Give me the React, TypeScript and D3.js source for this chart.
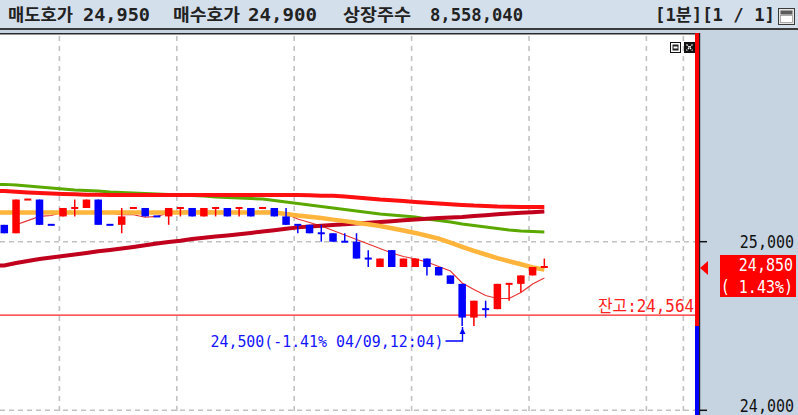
import React from 'react';
import * as d3 from 'd3';

// ---- data ----
const opens = [25100,25050,25250,25250,25100,25150,25200,25200,25250,25100,25100,25200,25200,25150,25150,25200,25200,25150,25200,25200,25200,25200,25200,25200,25150,25100,25100,25050,25050,25000,25000,24900,24850,24950,24850,24850,24900,24850,24800,24750,24550,24600,24600,24750,24750,24800,24850];
const highs = [25100,25250,25250,25250,25100,25200,25250,25250,25250,25100,25200,25200,25200,25150,25200,25200,25200,25200,25200,25200,25200,25200,25200,25200,25200,25100,25100,25100,25050,25050,25050,24950,24900,24950,24900,24900,24900,24850,24800,24750,24650,24650,24750,24750,24800,24850,24900];
const lows = [25050,25050,25250,25100,25100,25150,25150,25200,25100,25100,25050,25200,25150,25150,25100,25150,25150,25150,25150,25150,25150,25150,25200,25150,25100,25050,25050,25000,25000,25000,24900,24850,24850,24850,24850,24850,24800,24800,24750,24500,24500,24550,24600,24650,24700,24800,24850];
const closes = [25050,25250,25250,25100,25100,25200,25200,25250,25100,25100,25150,25200,25150,25150,25200,25200,25150,25200,25200,25150,25200,25150,25200,25150,25100,25100,25050,25050,25000,25000,24900,24900,24900,24850,24900,24900,24850,24800,24750,24550,24650,24600,24750,24750,24800,24850,24850];
const rising = [0,1,1,0,0,1,1,1,0,0,1,1,0,0,1,1,0,1,1,0,1,0,1,0,0,0,0,0,0,0,0,0,1,0,1,1,0,0,0,0,1,0,1,1,1,1,1];

const ma5: (number | null)[] = [null,25100,25125,25150,25155,25175,25170,25170,25170,25170,25160,25160,25145,25150,25170,25180,25180,25180,25180,25170,25180,25170,25180,25180,25164,25135,25114,25093,25066,25040,25013,24986,24960,24933,24912,24897,24880,24853,24826,24755,24717,24681,24663,24663,24699,24749,24785];
const maOrange = [25173,25173,25173,25173,25173,25173,25173,25173,25173,25173,25173,25173,25173,25173,25173,25173,25173,25173,25173,25173,25173,25173,25173,25173,25164,25155,25148,25140,25131,25122,25112,25103,25093,25080,25066,25052,25035,25018,24995,24970,24945,24924,24903,24884,24866,24847,24835];
const maRed = [25300,25296,25292,25289,25286,25283,25281,25279,25278,25277,25277,25277,25277,25277,25277,25277,25277,25277,25277,25277,25277,25277,25277,25277,25277,25277,25275,25273,25272,25268,25262,25256,25250,25246,25241,25236,25231,25227,25222,25218,25214,25212,25209,25208,25206,25206,25206];
const maDark = [24859,24874,24886,24897,24906,24915,24924,24933,24943,24951,24960,24969,24979,24989,24998,25006,25016,25024,25031,25037,25044,25052,25060,25068,25077,25085,25090,25095,25099,25104,25108,25112,25117,25122,25127,25132,25136,25140,25144,25147,25152,25157,25163,25167,25171,25175,25179];
const maGreen = [25340,25336,25330,25324,25318,25313,25307,25304,25301,25295,25292,25289,25286,25283,25280,25277,25274,25271,25265,25262,25259,25256,25253,25244,25235,25227,25218,25209,25200,25191,25182,25173,25164,25158,25152,25146,25135,25126,25117,25105,25096,25087,25078,25069,25063,25060,25058];

const gridIdx = [5, 15, 25, 35, 45, 55, 58.15];
const yTicks = [25000, 24000];
const yTickLabels = ['25,000', '24,000'];
const balancePrice = 24564;
const currentPrice = 24850;
const currentPct = '( 1.43%)';
const lowNote = '24,500(-1.41% 04/09,12:04)';

const headerItems = [
  { t: '매도호가', x: 8, w: 65 },
  { t: '24,950', x: 83, w: 67 },
  { t: '매수호가', x: 173, w: 67 },
  { t: '24,900', x: 248, w: 69 },
  { t: '상장주수', x: 343, w: 68 },
  { t: '8,558,040', x: 430, w: 93 },
  { t: '[1분][1 / 1]', x: 655, w: 120 },
];

const FONT = "'DejaVu Sans Mono', 'Noto Sans CJK KR', monospace";

export default function App() {
  const W = 798, H = 415;
  const plotRight = 695;
  const boxTop = 34;
  const x = d3.scaleLinear().domain([0, 1]).range([4.3, 4.3 + 11.74]);
  const y = d3.scaleLinear().domain([24000, 25000]).range([410.3, 241.7]);

  // lines continue to the left edge of the plot (earlier history scrolled off)
  const leftIdx = x.invert(0);
  const line = d3.line<number | null>()
    .defined(v => v != null)
    .x((_, i) => x(i))
    .y(v => y(v as number));
  const ext = (arr: (number | null)[]) => {
    const d = line(arr) || '';
    const first = arr.find(v => v != null) as number;
    if (arr[0] == null) return d;
    return `M${x(leftIdx)},${y(first)}L` + d.slice(1);
  };

  const lowVal = d3.min(lows) as number;
  const lowIdx = lows.indexOf(lowVal);
  const lx = Math.round(x(lowIdx)) + 0.5;
  const ly = y(lowVal);

  const candleW = 7.5;

  const axisText = (s: string, xr: number, yb: number, fill: string, key?: number) => (
    <text key={key} transform={`translate(${xr},${yb}) scale(1,1.15)`} textAnchor="end"
      fontFamily={FONT} fontSize={15} fill={fill}>{s}</text>
  );

  return (
    <svg width={W} height={H} style={{ position: 'fixed', left: 0, top: 0, display: 'block' }}>
      <defs>
        <clipPath id="plot">
          <rect x={0} y={boxTop} width={plotRight} height={H - boxTop} />
        </clipPath>
      </defs>
      {/* backgrounds */}
      <rect x={0} y={0} width={W} height={H} fill="#c6d4e2" />
      <rect x={0} y={0} width={W} height={28} fill="#d3dfeb" />
      <rect x={0} y={28} width={W} height={2} fill="#3a3a3a" />
      <rect x={0} y={boxTop} width={700} height={H - boxTop} fill="#ffffff" />
      <rect x={0} y={boxTop - 1} width={700} height={1.5} fill="#2a2a2a" />

      {/* header */}
      {headerItems.map((h, i) => (
        <text key={i} x={h.x} y={21} fontFamily={FONT} fontSize={17} fontWeight="bold" fill="#222"
          textLength={h.w} lengthAdjust="spacingAndGlyphs">{h.t}</text>
      ))}
      <rect x={778.5} y={8.5} width={16} height={16} fill="#e6e6e6" stroke="#3a3a3a" />
      <rect x={780.5} y={10.5} width={12} height={4} fill="#5a5a5a" />
      <rect x={780.5} y={15.5} width={12} height={7} fill="#ffffff" stroke="#9a9a9a" strokeWidth={0.8} />

      <g clipPath="url(#plot)">
        {/* grid */}
        {gridIdx.map((g, i) => (
          <line key={i} x1={x(g) - 3.6} x2={x(g) - 3.6} y1={boxTop + 2} y2={H}
            stroke="#c2c2c2" strokeWidth={1.6} strokeDasharray="5,5" />
        ))}
        {yTicks.map((t, i) => (
          <line key={i} x1={0} x2={plotRight} y1={y(t)} y2={y(t)}
            stroke="#c2c2c2" strokeWidth={1.6} strokeDasharray="5,4" />
        ))}

        {/* moving averages */}
        <path d={ext(ma5)} fill="none" stroke="#e83030" strokeWidth={1.1} />
        <path d={ext(maGreen)} fill="none" stroke="#5aa800" strokeWidth={3} />
        <path d={ext(maDark)} fill="none" stroke="#c0001c" strokeWidth={4} />
        <path d={ext(maRed)} fill="none" stroke="#ff1010" strokeWidth={4} />
        <path d={ext(maOrange)} fill="none" stroke="#ffb43c" strokeWidth={4.5} />

        {/* balance line */}
        <line x1={0} x2={plotRight} y1={y(balancePrice)} y2={y(balancePrice)} stroke="#ff2020" strokeWidth={1.2} />

        {/* candles */}
        {opens.map((o, i) => {
          const c = closes[i];
          const col = rising[i] ? '#ff0000' : '#0000ff';
          const cx = x(i);
          const top = y(Math.max(o, c));
          const bot = y(Math.min(o, c));
          return (
            <g key={i}>
              <line x1={cx} x2={cx} y1={y(highs[i])} y2={y(lows[i])} stroke={col} strokeWidth={1.5} />
              {o === c ? (
                <rect x={cx - 3.5} y={top - 1} width={7} height={2} fill={col} />
              ) : (
                <rect x={cx - candleW / 2} y={top} width={candleW} height={Math.max(2, bot - top)} fill={col} />
              )}
            </g>
          );
        })}

        {/* low annotation */}
        <path d={`M${lx},${ly + 1} L${lx},${ly + 15} L${lx - 17},${ly + 15}`} fill="none" stroke="#0000ff" strokeWidth={1.4} />
        <path d={`M${lx - 3},${ly + 8} L${lx},${ly + 2} L${lx + 3},${ly + 8} Z`} fill="#0000ff" />
        <text x={lx - 19} y={ly + 21} textAnchor="end" fontFamily={FONT} fontSize={16} fill="#1414ff"
          textLength={233} lengthAdjust="spacingAndGlyphs">{lowNote}</text>

        {/* balance label */}
        <text x={plotRight - 1} y={y(balancePrice) - 3} textAnchor="end" fontFamily={FONT} fontSize={17} fill="#ff2020"
          textLength={96} lengthAdjust="spacingAndGlyphs">{`잔고:${d3.format(',')(balancePrice)}`}</text>
      </g>

      {/* window icons */}
      <rect x={670.5} y={42.5} width={10} height={10} fill="#fff" stroke="#111" />
      <rect x={672.5} y={44.5} width={6} height={6} fill="#222" />
      <rect x={673.5} y={46.5} width={4} height={2} fill="#fff" />
      <rect x={684} y={42} width={11} height={11} fill="#111" />
      <path d="M686.5,44.5 L692.5,50.5 M692.5,44.5 L686.5,50.5" stroke="#fff" strokeWidth={1.3} strokeDasharray="1.5,1" />

      {/* side bar */}
      <rect x={695} y={boxTop - 1} width={4} height={ly + 1 - boxTop} fill="#ff0000" />
      <rect x={695} y={ly} width={4} height={H - ly} fill="#0000ff" />
      <rect x={699} y={boxTop - 1} width={1.2} height={H} fill="#222" />

      {/* right axis */}
      {yTicks.map((t, i) => (
        <g key={i}>
          <line x1={700} x2={707} y1={y(t)} y2={y(t)} stroke="#111" strokeWidth={1.5} />
          {axisText(yTickLabels[i], 794, Math.min(y(t) + 6, 412), '#111')}
        </g>
      ))}

      {/* current price marker */}
      <path d={`M700,${y(currentPrice) + 1} L708,${y(currentPrice) - 6} L708,${y(currentPrice) + 8} Z`} fill="#ff0000" />
      <rect x={720} y={y(currentPrice) - 12} width={76} height={42} fill="#ff0000" />
      {axisText(d3.format(',')(currentPrice), 793, y(currentPrice) + 4, '#fff')}
      {axisText(currentPct, 793, y(currentPrice) + 26, '#fff')}
    </svg>
  );
}
